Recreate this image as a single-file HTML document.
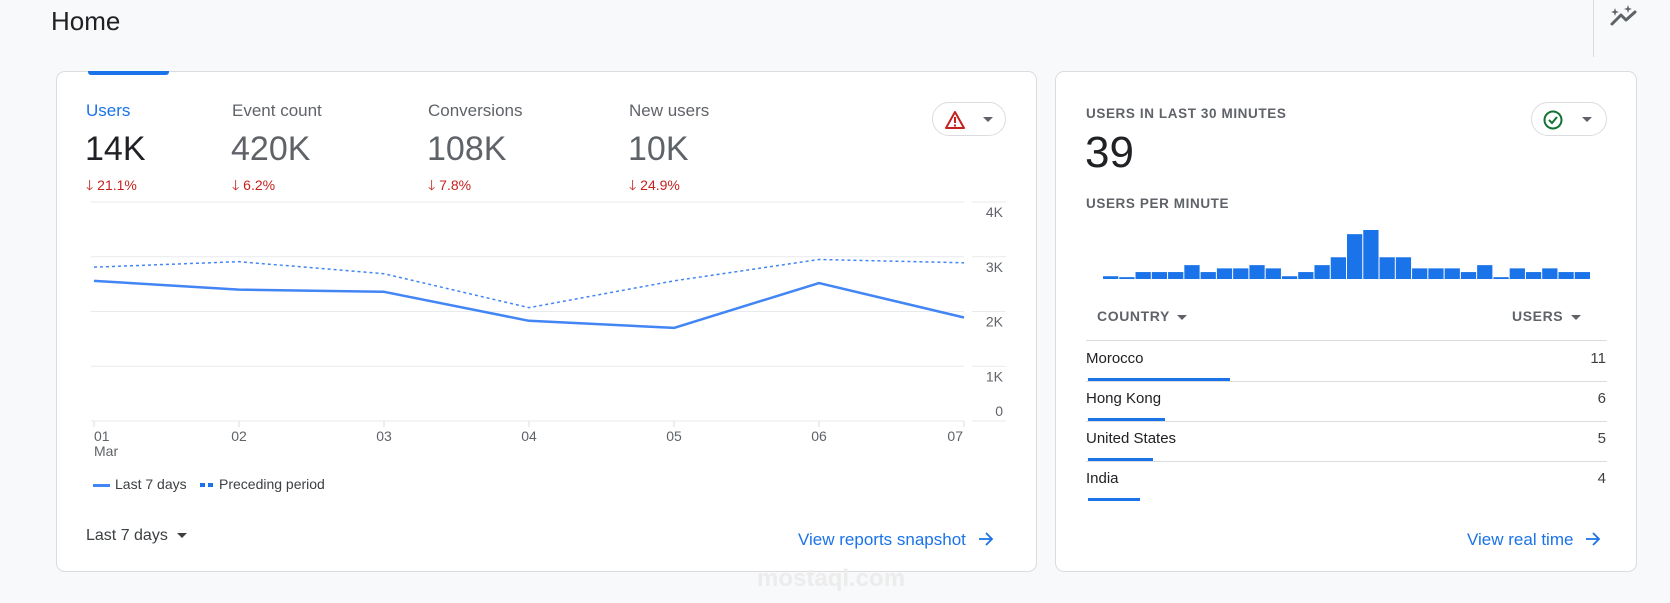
<!DOCTYPE html>
<html><head><meta charset="utf-8">
<style>
*{margin:0;padding:0;box-sizing:border-box}
body{width:1670px;height:603px;background:#f8f9fa;font-family:"Liberation Sans",Arial,sans-serif;position:relative;overflow:hidden;color:#202124}
.abs{position:absolute;white-space:nowrap}
.card{position:absolute;background:#fff;border:1px solid #dadce0;border-radius:9px}
.lbl{font-size:17px;color:#5f6368}
.val{font-size:34px;color:#5f6368}
.chg{font-size:14px;color:#c5221f}
.cap{font-size:13.5px;font-weight:bold;color:#5f6368;letter-spacing:0.6px}
.link{font-size:17px;color:#1a73e8}
.pill{position:absolute;border:1px solid #dadce0;border-radius:18px;background:#fff}
.arr{display:inline-block;vertical-align:middle;margin-left:12px;margin-top:-3px}
</style></head><body>
<div class="abs" style="left:51px;top:6px;font-size:26px;color:#202124">Home</div>
<div class="abs" style="left:1593px;top:0;width:1px;height:57px;background:#dadce0"></div>
<svg class="abs" style="left:1607px;top:4px" width="34" height="26" viewBox="0 0 34 26">
<polyline points="5,20 14,11 19,16 28,8" fill="none" stroke="#5f6368" stroke-width="3" stroke-linecap="round" stroke-linejoin="round"/>
<path d="M8 4 l1 3 3 1 -3 1 -1 3 -1 -3 -3 -1 3 -1z" fill="#5f6368"/>
<path d="M21 1 l1 3 3 1 -3 1 -1 3 -1 -3 -3 -1 3 -1z" fill="#5f6368"/>
</svg>

<div class="card" style="left:56px;top:71px;width:981px;height:501px"></div>
<div class="abs" style="left:88px;top:71px;width:81px;height:4px;background:#1a73e8;border-radius:0 0 3px 3px"></div>

<div class="abs lbl" style="left:86px;top:101px;color:#1a73e8">Users</div>
<div class="abs val" style="left:85px;top:130px;color:#202124">14K</div>
<div class="abs chg" style="left:86px;top:175px">🡓 21.1%</div>
<div class="abs lbl" style="left:232px;top:101px">Event count</div>
<div class="abs val" style="left:231px;top:130px">420K</div>
<div class="abs chg" style="left:232px;top:175px">🡓 6.2%</div>
<div class="abs lbl" style="left:428px;top:101px">Conversions</div>
<div class="abs val" style="left:427px;top:130px">108K</div>
<div class="abs chg" style="left:428px;top:175px">🡓 7.8%</div>
<div class="abs lbl" style="left:629px;top:101px">New users</div>
<div class="abs val" style="left:628px;top:130px">10K</div>
<div class="abs chg" style="left:629px;top:175px">🡓 24.9%</div>

<div class="pill" style="left:932px;top:102px;width:74px;height:34px">
<svg class="abs" style="left:11px;top:7px" width="22" height="20" viewBox="0 0 22 20"><path d="M11 2 L20 18 H2 Z" fill="none" stroke="#c5221f" stroke-width="2" stroke-linejoin="round"/><rect x="10" y="7" width="2" height="6" fill="#c5221f"/><rect x="10" y="14.5" width="2" height="2" fill="#c5221f"/></svg>
<div class="abs" style="left:50px;top:14px;width:0;height:0;border-left:5px solid transparent;border-right:5px solid transparent;border-top:5px solid #5f6368"></div>
</div>

<svg class="abs" id="lineChart" style="left:0;top:0" width="1670" height="603"></svg>

<div class="abs" style="left:93px;top:476px;font-size:14px;color:#3c4043"><span style="display:inline-block;width:17px;height:3px;background:#4285f4;vertical-align:middle;margin-right:5px"></span>Last 7 days</div>
<div class="abs" style="left:200px;top:476px;font-size:14px;color:#3c4043"><span style="display:inline-block;width:5px;height:4px;background:#1a73e8;vertical-align:middle;margin-right:3px"></span><span style="display:inline-block;width:5px;height:4px;background:#1a73e8;vertical-align:middle;margin-right:6px"></span>Preceding period</div>

<div class="abs" style="left:86px;top:527px;font-size:16px;color:#3c4043">Last 7 days <span style="display:inline-block;width:0;height:0;border-left:5px solid transparent;border-right:5px solid transparent;border-top:5px solid #3c4043;vertical-align:middle;margin-left:5px"></span></div>
<div class="abs" style="left:757px;top:565px;font-size:24px;font-weight:bold;color:#ececec">mostaql.com</div>
<div class="abs link" style="left:798px;top:530px">View reports snapshot<svg class="arr" width="16" height="16" viewBox="0 0 16 16"><path d="M1 8 H14 M8 2 L14 8 L8 14" fill="none" stroke="#1a73e8" stroke-width="1.8"/></svg></div>

<div class="card" style="left:1055px;top:71px;width:582px;height:501px"></div>
<div class="abs cap" style="left:1086px;top:106px">USERS IN LAST 30 MINUTES</div>
<div class="abs" style="left:1085px;top:128px;font-size:44px;color:#202124">39</div>
<div class="pill" style="left:1531px;top:102px;width:76px;height:34px">
<svg class="abs" style="left:10px;top:6px" width="22" height="22" viewBox="0 0 22 22"><circle cx="11" cy="11" r="8.5" fill="none" stroke="#137333" stroke-width="2"/><polyline points="7,11 10,14 15,8" fill="none" stroke="#137333" stroke-width="2"/></svg>
<div class="abs" style="left:50px;top:14px;width:0;height:0;border-left:5px solid transparent;border-right:5px solid transparent;border-top:5px solid #5f6368"></div>
</div>
<div class="abs cap" style="left:1086px;top:196px">USERS PER MINUTE</div>
<svg class="abs" id="barChart" style="left:0;top:0" width="1670" height="603"></svg>

<div class="abs cap" style="left:1097px;top:308px;font-size:14px">COUNTRY <span style="display:inline-block;width:0;height:0;border-left:5px solid transparent;border-right:5px solid transparent;border-top:5px solid #5f6368;vertical-align:middle;margin-left:3px"></span></div>
<div class="abs cap" style="left:1512px;top:308px;font-size:14px">USERS <span style="display:inline-block;width:0;height:0;border-left:5px solid transparent;border-right:5px solid transparent;border-top:5px solid #5f6368;vertical-align:middle;margin-left:3px"></span></div>
<div id="table"></div>
<div class="abs link" style="left:1467px;top:530px">View real time<svg class="arr" width="16" height="16" viewBox="0 0 16 16"><path d="M1 8 H14 M8 2 L14 8 L8 14" fill="none" stroke="#1a73e8" stroke-width="1.8"/></svg></div>

<script>
const days=["01","02","03","04","05","06","07"];
const last7=[2560,2400,2360,1830,1700,2520,1890];
const preceding=[2810,2910,2690,2070,2560,2950,2890];
const yTicks=[0,1000,2000,3000,4000];
const yTickLabels=["0","1K","2K","3K","4K"];
const perMinute=[0.6,0.4,1.5,1.5,1.5,3,1.5,2.3,2.3,3,2.3,0.6,1.5,3,4.7,9.7,10.6,4.7,4.7,2.3,2.3,2.3,1.5,3,0.4,2.3,1.5,2.3,1.5,1.5];
const countries=["Morocco","Hong Kong","United States","India"];
const countryUsers=[11,6,5,4];

const NS="http://www.w3.org/2000/svg";
function mk(p,t,a){const e=document.createElementNS(NS,t);for(const k in a)e.setAttribute(k,a[k]);p.appendChild(e);return e;}
const lc=document.getElementById('lineChart');
const x0=94,x1=964,yb=421,yt=202;
const xs=i=>x0+(x1-x0)*i/(days.length-1);
const ys=v=>yb-(yb-yt)*v/4000;
yTicks.forEach((t,i)=>{
  const g=mk(lc,'line',{x1:x0-3,x2:x1,y1:ys(t),y2:ys(t),stroke:'#e8eaed','stroke-width':1});
  
  
  const g2=mk(lc,'line',{x1:972,x2:1006,y1:ys(t),y2:ys(t),stroke:'#e8eaed','stroke-width':1});
  
  
  const tx=mk(lc,'text',{x:1003,y:t===0?ys(t)-5:ys(t)+15,'text-anchor':'end','font-size':14,fill:'#5f6368','font-family':'Liberation Sans'});
  tx.textContent=yTickLabels[i];
  
  
});
days.forEach((d,i)=>{
  const tk=mk(lc,'line',{x1:xs(i),x2:xs(i),y1:yb,y2:yb+6,stroke:'#dadce0'});
  
  
  const anchor=i===0?'start':(i===days.length-1?'end':'middle');
  const tx=mk(lc,'text',{x:i===days.length-1?xs(i)-1:xs(i),y:441,'text-anchor':anchor,'font-size':14,fill:'#5f6368','font-family':'Liberation Sans'});
  tx.textContent=d;
  
  
});
const mar=mk(lc,'text',{x:x0,y:456,'font-size':14,fill:'#5f6368','font-family':'Liberation Sans'});
mar.textContent='Mar';


const pp=mk(lc,'polyline',{points:preceding.map((v,i)=>xs(i)+','+ys(v)).join(' '),fill:'none',stroke:'#4285f4','stroke-width':1.5,'stroke-dasharray':'3,3'});


const lp=mk(lc,'polyline',{points:last7.map((v,i)=>xs(i)+','+ys(v)).join(' '),fill:'none',stroke:'#4285f4','stroke-width':2.5,'stroke-linejoin':'round'});



const bc=document.getElementById('barChart');
const bx0=1103,bx1=1591,bBase=279,bMax=10.6,bH=49;
const bw=(bx1-bx0)/perMinute.length;
perMinute.forEach((v,i)=>{
  const h=bH*v/bMax;
  const r=mk(bc,'rect',{x:bx0+i*bw,y:bBase-h,width:bw-1,height:h,fill:'#1a73e8'});
  
  
});

const tb=document.getElementById('table');
const hl=document.createElement('div');
hl.className='abs';hl.style.cssText='left:1086px;top:340px;width:521px;height:1px;background:#dadce0';


tb.appendChild(hl);
const maxU=Math.max(...countryUsers);
countries.forEach((c,i)=>{
  const top=350+i*40;
  const n=document.createElement('div');n.className='abs';
  n.style.cssText=`left:1086px;top:${top}px;font-size:15px;color:#202124`;
  n.textContent=c;
  
  
  tb.appendChild(n);
  const v=document.createElement('div');v.className='abs';
  v.style.cssText=`right:${1670-1606}px;top:${top}px;font-size:15px;color:#3c4043`;
  v.textContent=countryUsers[i];
  
  
  tb.appendChild(v);
  const b=document.createElement('div');b.className='abs';
  b.style.cssText=`left:1088px;top:${378+i*40}px;height:3px;background:#1a73e8;width:${142*countryUsers[i]/maxU}px`;
  
  
  tb.appendChild(b);
  if(i<countries.length-1){
    const l=document.createElement('div');l.className='abs';
    l.style.cssText=`left:1086px;top:${381+i*40}px;width:521px;height:1px;background:#dadce0`;
    
    
    tb.appendChild(l);
  }
});
</script>
</body></html>
